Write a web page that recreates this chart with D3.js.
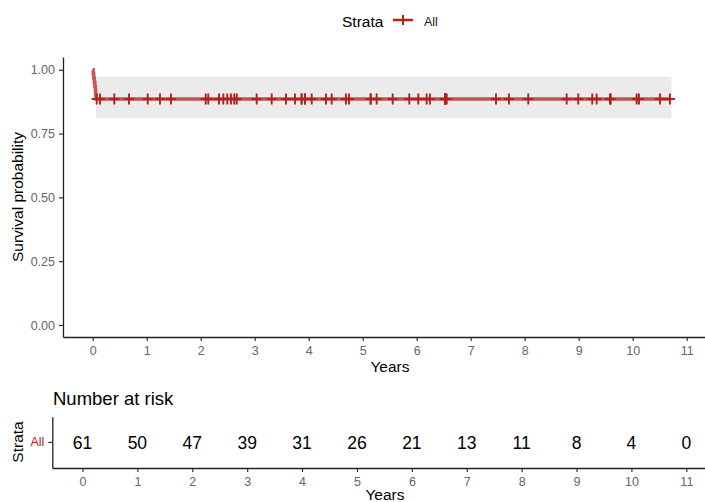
<!DOCTYPE html>
<html>
<head>
<meta charset="utf-8">
<script src="https://cdn.jsdelivr.net/npm/d3@7"></script>
<style>
  body { margin: 0; background: #fff; }
  text { font-family: "Liberation Sans", Arial, sans-serif; }
</style>
</head>
<body>
<div id="chart"></div>
<script>
// survival data (years)
const nSubjects = 61
const eventTimes = [0.01, 0.02, 0.03, 0.04, 0.05, 0.055, 0.06]
const censorTimes = [0.074, 0.135, 0.40, 0.672, 1.019, 1.246, 1.45, 2.093, 2.141, 2.339, 2.419, 2.493,
    2.561, 2.622, 2.667, 3.037, 3.315, 3.58, 3.746, 3.87, 3.87, 3.931, 3.931, 4.056, 4.32, 4.426, 4.69,
    4.746, 5.148, 5.148, 5.259, 5.556, 5.863, 6.03, 6.185, 6.246, 6.524, 6.524, 6.524, 6.524, 6.556,
    7.469, 7.709, 8.067, 8.778, 8.993, 9.252, 9.333, 9.58, 9.593, 10.074, 10.117, 10.506, 10.691]
const ciTimes = [0.06, 10.72]
const ciUpper = [0.974, 0.974]
const ciLower = [0.81, 0.81]
const yTicks = [0, 0.25, 0.5, 0.75, 1]
const xTicks = [0, 1, 2, 3, 4, 5, 6, 7, 8, 9, 10, 11]
const strata = ["All"]
const riskTimes = [0, 1, 2, 3, 4, 5, 6, 7, 8, 9, 10, 11]
const riskCounts = [61, 50, 47, 39, 31, 26, 21, 13, 11, 8, 4, 0]

const lineColor = "#B2211A"
const tickColor = "#666666"

const svg = d3.select("#chart").append("svg")
    .attr("width", 705)
    .attr("height", 502)

// build KM step points
let atRisk = nSubjects
let surv = 1
let events = eventTimes.map(t => ({ t: t, type: "e" }))
let cens = censorTimes.map(t => ({ t: t, type: "c" }))
let all = events.concat(cens).sort((a, b) => a.t - b.t)
let steps = [[0, 1]]
let censorPts = []
all.forEach(d => {
    if (d.type == "e") {
        steps.push([d.t, surv])
        surv = surv * (atRisk - 1) / atRisk
        steps.push([d.t, surv])
    } else {
        censorPts.push([d.t, surv])
    }
    atRisk--
})
steps.push([d3.max(censorTimes), surv])

// ---------- survival panel ----------
let x = d3.scaleLinear().domain([-0.55, 11.34]).range([63, 705])
let y = d3.scaleLinear().domain([-0.047, 1.05]).range([337, 57])

let ci = ciTimes.map((t, i) => [t, ciLower[i], ciUpper[i]])
svg.append("path")
    .datum(ci)
    .attr("fill", "#ebebeb")
    .attr("d", d3.area().x(d => x(d[0])).y0(d => y(d[1])).y1(d => y(d[2])))

svg.append("path")
    .datum(steps)
    .attr("fill", "none")
    .attr("stroke", lineColor)
    .attr("stroke-opacity", 0.75)
    .attr("stroke-width", 3.4)
    .attr("d", d3.line().x(d => x(d[0])).y(d => y(d[1])))

svg.append("g")
    .selectAll("path")
    .data(censorPts)
    .enter()
    .append("path")
    .attr("d", d => {
        let cx = x(d[0]), cy = y(d[1])
        return "M" + (cx - 5) + "," + cy + "H" + (cx + 5) + "M" + cx + "," + (cy - 5.5) + "V" + (cy + 5.5)
    })
    .attr("stroke", lineColor)
    .attr("stroke-width", 1.9)

let xAxis = svg.append("g")
    .attr("transform", "translate(0,337)")
    .call(d3.axisBottom(x).tickValues(xTicks).tickSize(4).tickSizeOuter(0).tickPadding(5))
let yAxis = svg.append("g")
    .attr("transform", "translate(63,0)")
    .call(d3.axisLeft(y).tickValues(yTicks).tickFormat(d3.format(".2f")).tickSize(4).tickSizeOuter(0).tickPadding(4))

ggAxis = g => {
    g.select(".domain").attr("stroke", "#222").attr("stroke-width", 1.3)
    g.selectAll(".tick line").attr("stroke", "#222").attr("stroke-width", 1.1)
    g.selectAll(".tick text").attr("fill", tickColor).style("font-size", "12.5px")
        .style("font-family", "'Liberation Sans', Arial, sans-serif")
}
ggAxis(xAxis)
ggAxis(yAxis)

svg.append("text").attr("x", 390).attr("y", 372).attr("text-anchor", "middle")
    .style("font-size", "15.5px").text("Years")
svg.append("text").attr("transform", "translate(23,197) rotate(-90)").attr("text-anchor", "middle")
    .style("font-size", "15.5px").text("Survival probability")

// legend
svg.append("text").attr("x", 342).attr("y", 27).style("font-size", "15.5px").text("Strata")
svg.append("line").attr("x1", 393).attr("x2", 413).attr("y1", 20).attr("y2", 20)
    .attr("stroke", lineColor).attr("stroke-width", 2.5)
svg.append("line").attr("x1", 403).attr("x2", 403).attr("y1", 15).attr("y2", 25)
    .attr("stroke", lineColor).attr("stroke-width", 2)
svg.append("text").attr("x", 424).attr("y", 26).style("font-size", "12.5px").attr("fill", "#222").text("All")

// ---------- risk table ----------
let xr = d3.scaleLinear().domain([-0.55, 11.34]).range([52.3, 705])
let yr = d3.scaleBand().domain(strata).range([416.7, 468])

svg.append("text").attr("x", 53).attr("y", 405).style("font-size", "18.5px").text("Number at risk")

svg.append("g")
    .selectAll("text")
    .data(riskTimes)
    .enter()
    .append("text")
    .attr("x", d => xr(d))
    .attr("y", yr("All") + yr.bandwidth() / 2)
    .attr("dy", "0.36em")
    .attr("text-anchor", "middle")
    .style("font-size", "17.5px")
    .text((d, i) => riskCounts[i])

let xrAxis = svg.append("g")
    .attr("transform", "translate(0,468)")
    .call(d3.axisBottom(xr).tickValues(xTicks).tickSize(4).tickSizeOuter(0).tickPadding(5))
let yrAxis = svg.append("g")
    .attr("transform", "translate(52.3,0)")
    .call(d3.axisLeft(yr).tickSize(4).tickSizeOuter(0).tickPadding(4))
ggAxis(xrAxis)
ggAxis(yrAxis)
yrAxis.selectAll(".tick text").attr("fill", lineColor).style("font-size", "12.5px")

svg.append("text").attr("x", 385).attr("y", 500).attr("text-anchor", "middle")
    .style("font-size", "15.5px").text("Years")
svg.append("text").attr("transform", "translate(23,442) rotate(-90)").attr("text-anchor", "middle")
    .style("font-size", "15.5px").text("Strata")
</script>
</body>
</html>
